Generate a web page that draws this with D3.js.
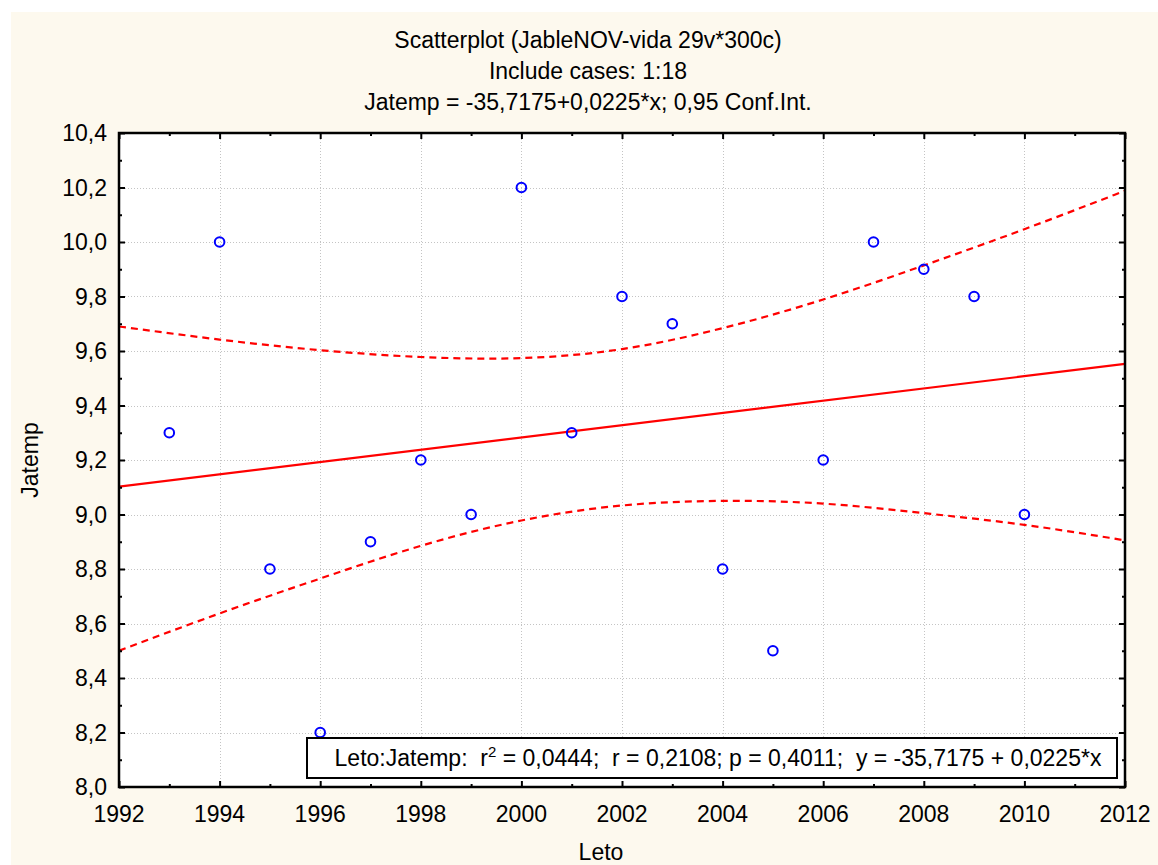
<!DOCTYPE html>
<html>
<head>
<meta charset="utf-8">
<script src="https://cdn.jsdelivr.net/npm/d3@7"></script>
<style>
  html, body { margin: 0; padding: 0; background: #ffffff; }
  svg { display: block; font-family: "Liberation Sans", Arial, sans-serif; }
</style>
</head>
<body>
<svg id="chart" width="1158" height="865"></svg>
<script>
// data
var years = [1993, 1994, 1995, 1996, 1997, 1998, 1999, 2000, 2001,
             2002, 2003, 2004, 2005, 2006, 2007, 2008, 2009, 2010];
var jatemp = [9.3, 10.0, 8.8, 8.2, 8.9, 9.2, 9.0, 10.2, 9.3,
              9.8, 9.7, 8.8, 8.5, 9.2, 10.0, 9.9, 9.8, 9.0];

// regression line end points and 0,95 confidence band
var regYears = [1992, 2012];
var regValues = [9.1025, 9.5525];
var bandYears = [1992, 1994, 1996, 1998, 2000, 2002, 2004, 2006, 2008, 2010, 2012];
var upperCI = [9.69, 9.642, 9.603, 9.578, 9.574, 9.607, 9.684, 9.789, 9.914, 10.047, 10.188];
var lowerCI = [8.50, 8.637, 8.765, 8.885, 8.978, 9.033, 9.050, 9.040, 9.005, 8.962, 8.905];

var xTicks = [1992, 1994, 1996, 1998, 2000, 2002, 2004, 2006, 2008, 2010, 2012];
var yTicks = [8.0, 8.2, 8.4, 8.6, 8.8, 9.0, 9.2, 9.4, 9.6, 9.8, 10.0, 10.2, 10.4];
var xMinor = [1993, 1995, 1997, 1999, 2001, 2003, 2005, 2007, 2009, 2011];
var yMinor = [8.1, 8.3, 8.5, 8.7, 8.9, 9.1, 9.3, 9.5, 9.7, 9.9, 10.1, 10.3];

var titleLines = ["Scatterplot (JableNOV-vida 29v*300c)",
                  "Include cases: 1:18",
                  "Jatemp = -35,7175+0,0225*x; 0,95 Conf.Int."];

var svg = d3.select("#chart");
var W = 1158, H = 865;
var plot = {left: 119, top: 133, right: 1125, bottom: 787};
var FS = 23;

// cream background of the graph window
svg.append("rect").attr("x", 11).attr("y", 12)
    .attr("width", W - 11).attr("height", H - 12)
    .attr("fill", "#fdf9ee");

var x = d3.scaleLinear().domain([1992, 2012]).range([plot.left, plot.right]);
var y = d3.scaleLinear().domain([8.0, 10.4]).range([plot.bottom, plot.top]);
var comma = function(d) { return d3.format(".1f")(d).replace(".", ","); };

svg.append("rect")
    .attr("x", plot.left).attr("y", plot.top)
    .attr("width", plot.right - plot.left).attr("height", plot.bottom - plot.top)
    .attr("fill", "#ffffff");

// dotted grid
var grid = svg.append("g").attr("stroke", "#c4c4c4").attr("stroke-width", 1)
    .attr("stroke-dasharray", "1,2");
grid.selectAll("line.gx").data(xTicks.slice(1, -1)).enter().append("line")
    .attr("x1", function(d) { return Math.round(x(d)) + 0.5; })
    .attr("x2", function(d) { return Math.round(x(d)) + 0.5; })
    .attr("y1", plot.top).attr("y2", plot.bottom);
grid.selectAll("line.gy").data(yTicks.slice(1, -1)).enter().append("line")
    .attr("y1", function(d) { return Math.round(y(d)) + 0.5; })
    .attr("y2", function(d) { return Math.round(y(d)) + 0.5; })
    .attr("x1", plot.left).attr("x2", plot.right);

// clip for the lines
svg.append("clipPath").attr("id", "clip").append("rect")
    .attr("x", plot.left).attr("y", plot.top)
    .attr("width", plot.right - plot.left).attr("height", plot.bottom - plot.top);
var inner = svg.append("g").attr("clip-path", "url(#clip)");

var band = d3.line()
    .x(function(d) { return x(d[0]); })
    .y(function(d) { return y(d[1]); })
    .curve(d3.curveNatural);

inner.append("path")
    .datum(d3.zip(bandYears, upperCI))
    .attr("d", band).attr("fill", "none")
    .attr("stroke", "#ff0000").attr("stroke-width", 2.2)
    .attr("stroke-dasharray", "7,5");
inner.append("path")
    .datum(d3.zip(bandYears, lowerCI))
    .attr("d", band).attr("fill", "none")
    .attr("stroke", "#ff0000").attr("stroke-width", 2.2)
    .attr("stroke-dasharray", "7,5");
inner.append("path")
    .datum(d3.zip(regYears, regValues))
    .attr("d", d3.line().x(function(d) { return x(d[0]); }).y(function(d) { return y(d[1]); }))
    .attr("fill", "none").attr("stroke", "#ff0000").attr("stroke-width", 2.2);

// points
svg.append("g").selectAll("circle").data(d3.zip(years, jatemp)).enter().append("circle")
    .attr("cx", function(d) { return x(d[0]); })
    .attr("cy", function(d) { return y(d[1]); })
    .attr("r", 4.8)
    .attr("fill", "none").attr("stroke", "#0000ff").attr("stroke-width", 2);

// ticks on all four sides, pointing inwards
function ticksOnly(axis, values, size, transform) {
    var g = svg.append("g").attr("transform", transform)
        .call(axis.tickValues(values).tickSizeInner(-size).tickSizeOuter(0).tickFormat(""));
    g.select(".domain").remove();
    g.selectAll("line").attr("stroke", "#000").attr("stroke-width", 2);
    return g;
}
ticksOnly(d3.axisBottom(x), xTicks, 6, "translate(0," + plot.bottom + ")");
ticksOnly(d3.axisBottom(x), xMinor, 3, "translate(0," + plot.bottom + ")");
ticksOnly(d3.axisTop(x), xTicks, 6, "translate(0," + plot.top + ")");
ticksOnly(d3.axisTop(x), xMinor, 3, "translate(0," + plot.top + ")");
ticksOnly(d3.axisLeft(y), yTicks, 6, "translate(" + plot.left + ",0)");
ticksOnly(d3.axisLeft(y), yMinor, 3, "translate(" + plot.left + ",0)");
ticksOnly(d3.axisRight(y), yTicks, 6, "translate(" + plot.right + ",0)");
ticksOnly(d3.axisRight(y), yMinor, 3, "translate(" + plot.right + ",0)");

// tick labels
svg.append("g").selectAll("text").data(xTicks).enter().append("text")
    .attr("x", function(d) { return x(d); })
    .attr("y", 822)
    .attr("text-anchor", "middle")
    .attr("font-size", FS)
    .text(function(d) { return d; });
svg.append("g").selectAll("text").data(yTicks).enter().append("text")
    .attr("x", 107)
    .attr("y", function(d) { return y(d) + 8; })
    .attr("text-anchor", "end")
    .attr("font-size", FS)
    .text(comma);

// frame
svg.append("rect")
    .attr("x", plot.left).attr("y", plot.top)
    .attr("width", plot.right - plot.left).attr("height", plot.bottom - plot.top)
    .attr("fill", "none").attr("stroke", "#000").attr("stroke-width", 2.5);

// statistics box
var box = svg.append("g");
box.append("rect").attr("x", 307).attr("y", 738).attr("width", 810).attr("height", 40)
    .attr("fill", "#ffffff").attr("stroke", "#000").attr("stroke-width", 2);
var stat = box.append("text").attr("x", 718).attr("y", 766)
    .attr("text-anchor", "middle").attr("font-size", FS)
    .attr("xml:space", "preserve");
stat.append("tspan").text("Leto:Jatemp:  r");
stat.append("tspan").attr("font-size", 15).attr("dy", -9).text("2");
stat.append("tspan").attr("dy", 9).text(" = 0,0444;  r = 0,2108; p = 0,4011;  y = -35,7175 + 0,0225*x");

// titles
svg.append("g").selectAll("text").data(titleLines).enter().append("text")
    .attr("x", 588)
    .attr("y", function(d, i) { return 48 + i * 31; })
    .attr("text-anchor", "middle")
    .attr("font-size", FS)
    .text(function(d) { return d; });

svg.append("text").attr("x", 601).attr("y", 860)
    .attr("text-anchor", "middle").attr("font-size", FS).text("Leto");
svg.append("text")
    .attr("transform", "translate(38," + ((plot.top + plot.bottom) / 2) + ") rotate(-90)")
    .attr("text-anchor", "middle").attr("font-size", FS).text("Jatemp");
</script>
</body>
</html>
